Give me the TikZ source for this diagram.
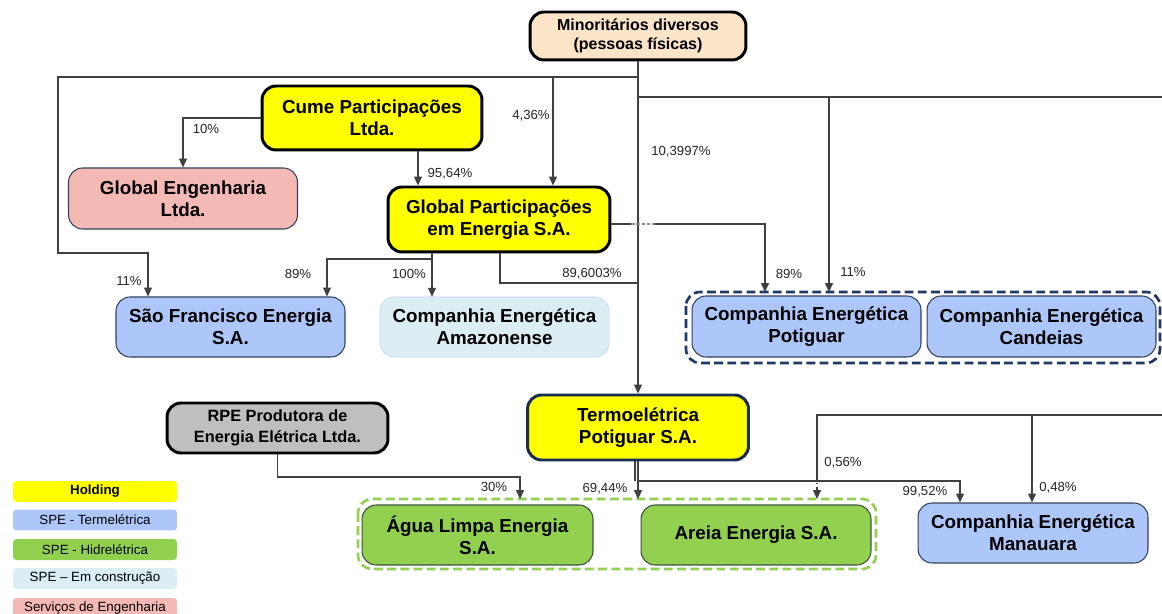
\documentclass[tikz,border=0pt]{standalone}
\usepackage{fontspec}
\setmainfont{Liberation Sans}
\usetikzlibrary{arrows.meta}
\definecolor{cyel}{HTML}{FFFF00}
\definecolor{cpeach}{HTML}{FCE4C8}
\definecolor{cblue}{HTML}{AEC7FA}
\definecolor{ccyan}{HTML}{DAEEF3}
\definecolor{cpink}{HTML}{F4B9B5}
\definecolor{cgreen}{HTML}{92D050}
\definecolor{cgray}{HTML}{BFBFBF}
\definecolor{cnavyb}{HTML}{33405F}
\definecolor{cgreenb}{HTML}{3F4F3F}
\definecolor{cgrp}{HTML}{1F3864}
\definecolor{cline}{HTML}{404040}
\tikzset{
  base/.style={rectangle, rounded corners=8pt, align=center, font=\bfseries\fontsize{10.7}{12.5}\selectfont, inner sep=0pt},
  holdbox/.style={base, fill=cyel, draw=black, line width=1.7pt},
  minobox/.style={base, fill=cpeach, draw=black, line width=1.7pt, font=\bfseries\fontsize{9.1}{10.6}\selectfont},
  rpebox/.style={base, fill=cgray, draw=black, line width=1.7pt, font=\bfseries\fontsize{9.3}{12.2}\selectfont},
  termobox/.style={base, fill=cyel, draw=cgrp!80!black, line width=1.7pt},
  bluebox/.style={base, fill=cblue, draw=cnavyb, line width=0.6pt},
  cyanbox/.style={base, fill=ccyan, draw=ccyan!90!blue, line width=0.4pt},
  pinkbox/.style={base, fill=cpink, draw=cnavyb, line width=0.6pt},
  greenbox/.style={base, fill=cgreen, draw=cgreenb, line width=0.6pt},
  grpnavy/.style={draw=cgrp, line width=1.5pt, dash pattern=on 5pt off 2.5pt, rounded corners=8pt},
  grpgreen/.style={draw=cgreen, line width=1.5pt, dash pattern=on 5pt off 2.5pt, rounded corners=8pt},
  conn/.style={draw=cline, line width=0.6pt},
  arr/.style={conn, -{Triangle[length=5pt,width=4.5pt]}},
  pct/.style={font=\fontsize{7.5}{9}\selectfont, text=black!85, inner sep=0pt},
  leg/.style={rectangle, rounded corners=2pt, minimum width=3.28cm, minimum height=0.42cm, inner sep=0pt, font=\fontsize{7.6}{9}\selectfont},
}
\begin{document}
\begin{tikzpicture}[x=0.02cm,y=-0.02cm]
\useasboundingbox (0,0) rectangle (1162,614);
\clip (0,0) rectangle (1162,614);
\fill[white] (0,0) rectangle (1162,614);

% groups
\draw[grpnavy] (686,292) rectangle (1160,363);
\coordinate (potgrp) at (923,292);
\draw[grpgreen] (358,499) rectangle (876,569);
\coordinate (greengrp) at (617,499);

% nodes
\node[minobox, minimum width=4.32cm, minimum height=0.96cm] (mino) at (638,36) {Minoritários diversos\\(pessoas físicas)};
\node[holdbox, minimum width=4.4cm, minimum height=1.28cm] (cume) at (372,118) {Cume Participações\\Ltda.};
\node[pinkbox, minimum width=4.58cm, minimum height=1.22cm] (geng) at (183,198.5) {Global Engenharia\\Ltda.};
\node[holdbox, minimum width=4.44cm, minimum height=1.3cm] (gpart) at (499,219.5) {Global Participações\\em Energia S.A.};
\node[bluebox, minimum width=4.58cm, minimum height=1.2cm] (sfe) at (230.5,327) {São Francisco Energia\\S.A.};
\node[cyanbox, minimum width=4.58cm, minimum height=1.2cm] (cea) at (494.5,327) {Companhia Energética\\Amazonense};
\node[bluebox, minimum width=4.58cm, minimum height=1.22cm] (cep) at (806.5,326.5) {Companhia Energética\\Potiguar};
\node[bluebox, minimum width=4.58cm, minimum height=1.22cm] (cec) at (1041.5,326.5) {Companhia Energética\\Candeias};
\node[rpebox, minimum width=4.42cm, minimum height=1.0cm] (rpe) at (277.5,428) {RPE Produtora de\\Energia Elétrica Ltda.};
\node[termobox, minimum width=4.42cm, minimum height=1.3cm] (termo) at (638,427.5) {Termoelétrica\\Potiguar S.A.};
\node[greenbox, minimum width=4.62cm, minimum height=1.2cm] (agua) at (477.5,535) {Água Limpa Energia\\S.A.};
\node[greenbox, minimum width=4.6cm, minimum height=1.2cm] (areia) at (756,535) {Areia Energia S.A.};
\node[bluebox, minimum width=4.6cm, minimum height=1.2cm] (mana) at (1033,533) {Companhia Energética\\Manauara};

% legend
\node[leg, fill=cyel, font=\bfseries\fontsize{7.6}{9}\selectfont] (lg1) at (95,491.5) {Holding};
\node[leg, fill=cblue] (lg2) at (95,520) {SPE - Termelétrica};
\node[leg, fill=cgreen] (lg3) at (95,549.5) {SPE - Hidrelétrica};
\node[leg, fill=ccyan] (lg4) at (95,578.5) {SPE – Em construção};
\node[leg, fill=cpink] (lg5) at (95,608.5) {Serviços de Engenharia};

% coordinates
\coordinate (j1) at (638,77);
\coordinate (j2) at (553,77);
\coordinate (j3) at (638,97);
\coordinate (j4) at (829,97);
\coordinate (r1) at (1162,97);
\coordinate (j5) at (432,259);
\coordinate (j6) at (638,283);
\coordinate (r2) at (1162,415);
\coordinate (j7) at (1032,415);

% connectors
\draw[arr] (mino.south) -- (termo.north);
\draw[arr] (j1) -- (58,77) -- (58,253) -| (148,0 |- sfe.north);
\draw[arr] (j2) -- (j2 |- gpart.north);
\draw[conn] (j3) -- (r1);
\draw[arr] (j4) -- (j4 |- potgrp);
\draw[arr] (cume.west) -| (geng.north);
\draw[arr] (418,0 |- cume.south) -- (418,0 |- gpart.north);
\draw[conn] (gpart.east |- 0,224) -- (631,224);
\draw[draw=cline!60, line width=0.6pt, dash pattern=on 2pt off 1pt] (631,224) -- (655,224);
\draw[arr] (655,224) -| (765,0 |- potgrp);
\draw[arr] (432,0 |- gpart.south) -- (432,0 |- cea.north);
\draw[arr] (j5) -| (327,0 |- sfe.north);
\draw[conn] (500,0 |- gpart.south) |- (j6);
\draw[conn] (635,0 |- termo.south) -- (635,481);
\draw[arr] (638,481) -| (960,0 |- mana.north);
\draw[arr] (termo.south) -- (termo.south |- greengrp);
\draw[arr] (rpe.south) |- (520,477) -- (520,0 |- greengrp);
\draw[conn] (r2) -| (817,476);
\draw[arr, dash pattern=on 3pt off 1.2pt on 0.6pt off 1.2pt] (817,476) -- (817,0 |- greengrp);
\draw[arr] (j7) -- (j7 |- mana.north);

% percent labels
\node[pct] (p1) at (129,281) {11\%};
\node[pct] (p2) at (531,116) {4,36\%};
\node[pct] (p3) at (681,152) {10,3997\%};
\node[pct] (p4) at (853,272) {11\%};
\node[pct] (p5) at (206,129) {10\%};
\node[pct] (p6) at (450,174) {95,64\%};
\node[pct] (p7) at (789,274) {89\%};
\node[pct] (p8) at (409,274) {100\%};
\node[pct] (p9) at (298,274) {89\%};
\node[pct] (p10) at (592,274) {89,6003\%};
\node[pct] (p11) at (925,492) {99,52\%};
\node[pct] (p12) at (605,489) {69,44\%};
\node[pct] (p13) at (494,487) {30\%};
\node[pct] (p14) at (843,463) {0,56\%};
\node[pct] (p15) at (1058,488) {0,48\%};
\end{tikzpicture}
\end{document}
